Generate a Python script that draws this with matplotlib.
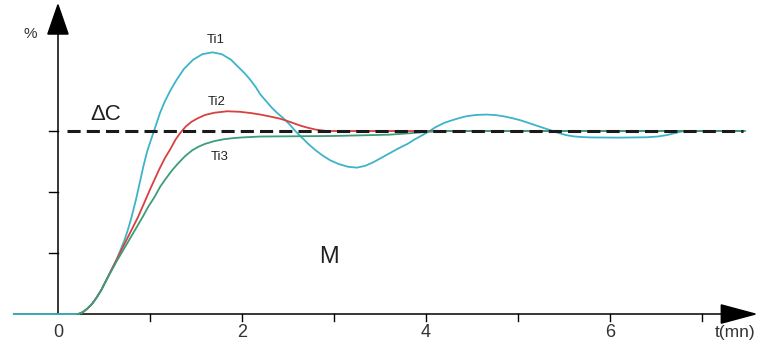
import matplotlib
matplotlib.use("Agg")
import matplotlib.pyplot as plt

plt.rcParams['font.family'] = ['Liberation Sans', 'DejaVu Sans']

# step responses (time in minutes, value relative to the setpoint change dC)
t_ti1 = [-0.48, 0.22, 0.27, 0.32, 0.37, 0.42, 0.47, 0.52, 0.58, 0.64, 0.68, 0.72, 0.76,
         0.80, 0.85, 0.89, 0.93, 0.97, 1.01, 1.05, 1.11, 1.16, 1.22, 1.29, 1.37, 1.47,
         1.57, 1.68, 1.78, 1.88, 1.98, 2.04, 2.09, 2.15, 2.20, 2.26, 2.32, 2.38, 2.45,
         2.52, 2.58, 2.65, 2.72, 2.80, 2.88, 2.96, 3.05, 3.15, 3.25, 3.34, 3.43, 3.52,
         3.61, 3.70, 3.80, 3.88, 3.97, 4.04, 4.10, 4.20, 4.29, 4.37, 4.45, 4.55, 4.66,
         4.76, 4.85, 4.94, 5.02, 5.11, 5.20, 5.29, 5.38, 5.45, 5.52, 5.60, 5.70, 5.80,
         6.10, 6.40, 6.52, 6.62, 6.70, 6.80, 7.47]
y_ti1 = [0.0, 0.0, 0.01, 0.03, 0.055, 0.09, 0.13, 0.18, 0.24, 0.30, 0.35, 0.40, 0.46,
         0.53, 0.63, 0.72, 0.81, 0.89, 0.95, 1.01, 1.10, 1.16, 1.22, 1.28, 1.34, 1.39,
         1.42, 1.43, 1.42, 1.39, 1.34, 1.31, 1.28, 1.24, 1.20, 1.165, 1.13, 1.10, 1.07,
         1.035, 1.00, 0.965, 0.93, 0.895, 0.865, 0.84, 0.82, 0.805, 0.80, 0.81, 0.83, 0.855,
         0.88, 0.905, 0.93, 0.955, 0.98, 1.00, 1.02, 1.045, 1.06, 1.072, 1.082, 1.088, 1.09,
         1.087, 1.08, 1.07, 1.06, 1.045, 1.03, 1.015, 1.00, 0.988, 0.978, 0.971, 0.967, 0.965,
         0.964, 0.966, 0.97, 0.978, 0.988, 1.00, 1.00]

t_ti2 = [0.22, 0.27, 0.32, 0.37, 0.42, 0.47, 0.52, 0.58, 0.64, 0.70, 0.75, 0.81, 0.87,
         0.94, 1.00, 1.05, 1.10, 1.16, 1.22, 1.28, 1.33, 1.39, 1.45, 1.52, 1.60, 1.70,
         1.84, 1.98, 2.10, 2.20, 2.30, 2.41, 2.48, 2.55, 2.62, 2.70, 2.80, 2.92, 7.45]
y_ti2 = [0.0, 0.01, 0.03, 0.055, 0.09, 0.13, 0.18, 0.24, 0.30, 0.36, 0.41, 0.47, 0.53,
         0.61, 0.68, 0.735, 0.79, 0.85, 0.90, 0.955, 0.99, 1.025, 1.05, 1.07, 1.088, 1.10,
         1.108, 1.105, 1.098, 1.09, 1.08, 1.068, 1.057, 1.045, 1.032, 1.02, 1.008, 1.00, 1.00]

t_ti3 = [0.22, 0.27, 0.32, 0.37, 0.42, 0.47, 0.52, 0.58, 0.64, 0.71, 0.78, 0.85, 0.92,
         0.98, 1.05, 1.11, 1.18, 1.24, 1.30, 1.38, 1.46, 1.53, 1.60, 1.70, 1.80, 1.90,
         2.00, 2.20, 3.00, 3.60, 3.80, 4.00, 4.20, 7.45]
y_ti3 = [0.0, 0.01, 0.03, 0.055, 0.09, 0.13, 0.18, 0.235, 0.29, 0.35, 0.41, 0.47, 0.53,
         0.585, 0.64, 0.695, 0.745, 0.785, 0.82, 0.862, 0.895, 0.915, 0.93, 0.945, 0.955, 0.961,
         0.965, 0.97, 0.973, 0.98, 0.987, 0.995, 1.00, 1.00]

setpoint = 1.0
x_ticks = [1, 2, 3, 4, 5, 6, 7]
x_labels = {0: '0', 2: '2', 4: '4', 6: '6'}
y_ticks = [1 / 3, 2 / 3, 1.0]

fig = plt.figure(figsize=(7.66, 3.49), dpi=100)
ax = fig.add_axes([0, 0, 1, 1])
ax.set_xlim(-0.630, 7.696)
ax.set_ylim(-0.191, 1.716)
ax.axis('off')

# axes with arrows
ax.plot([-0.48, 7.25], [0, 0], color='black', lw=1.1, zorder=1)
ax.plot([0, 0], [0, 1.55], color='black', lw=1.1, zorder=1)
ax.fill([7.21, 7.58, 7.21], [-0.05, 0, 0.05], color='black', zorder=1)
ax.fill([-0.11, 0, 0.11], [1.53, 1.69, 1.53], color='black', zorder=1)

for xt in x_ticks:
    ax.plot([xt, xt], [0, -0.04], color='black', lw=1.0, zorder=1)
for yt in y_ticks:
    ax.plot([-0.1, 0], [yt, yt], color='black', lw=1.0, zorder=1)

ax.plot(t_ti1, y_ti1, color='#3db4c8', lw=1.3, zorder=3)
ax.plot(t_ti2, y_ti2, color='#d8403e', lw=1.3, zorder=3)
ax.plot(t_ti3, y_ti3, color='#3a9e78', lw=1.3, zorder=3)

ax.plot([0.1, 7.45], [setpoint, setpoint], color='#1a1a1a', lw=2.2,
        dashes=(4.3, 2.0), zorder=4)

for xv, lab in x_labels.items():
    ax.text(xv, -0.1, lab, ha='center', va='center', fontsize=13, color='#333333')
ax.text(7.36, -0.1, 't(mn)', ha='center', va='center', fontsize=12.5, color='#333333')
ax.text(-0.3, 1.53, '%', ha='center', va='center', fontsize=11, color='#333333')

ax.text(0.52, 1.09, '\u0394C', ha='center', va='center', fontsize=16, color='#222222')
ax.text(2.95, 0.31, 'M', ha='center', va='center', fontsize=17, color='#222222')
ax.text(1.71, 1.5, 'Ti1', ha='center', va='center', fontsize=9.5, color='#222222')
ax.text(1.73, 1.16, 'Ti2', ha='center', va='center', fontsize=9.5, color='#222222')
ax.text(1.76, 0.86, 'Ti3', ha='center', va='center', fontsize=9.5, color='#222222')

fig.savefig('out.png', dpi=100)
